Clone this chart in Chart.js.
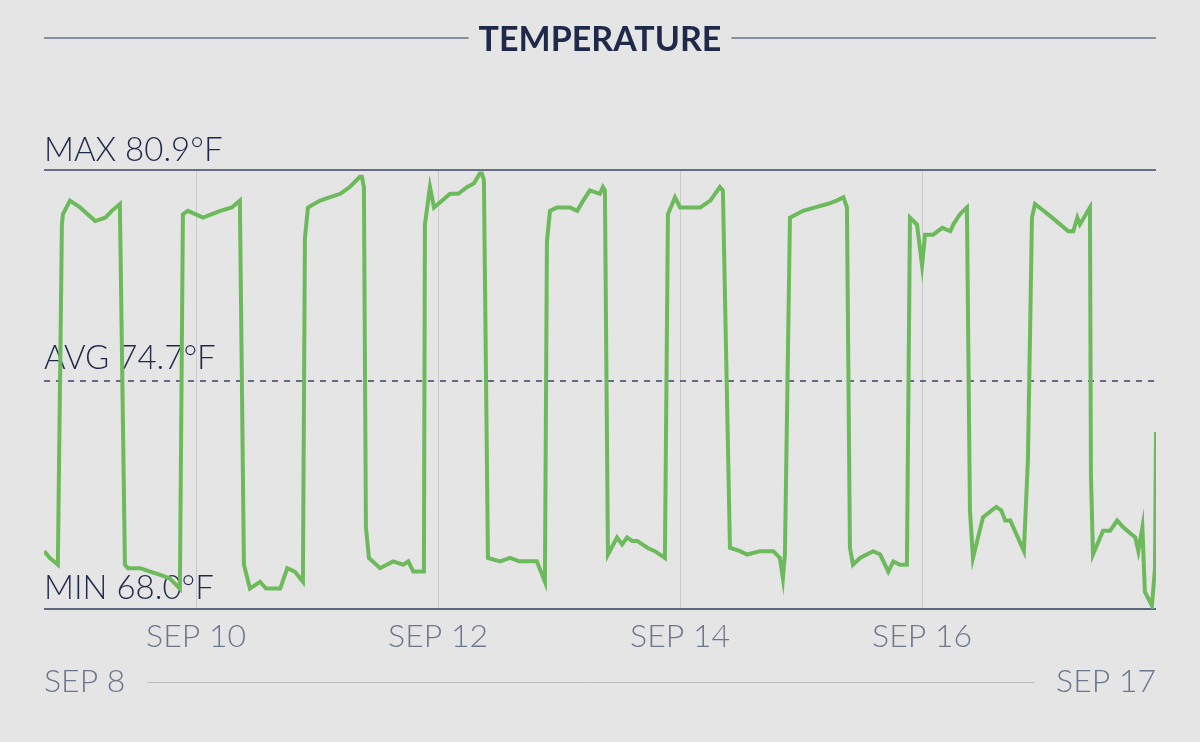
<!DOCTYPE html>
<html>
<head>
<meta charset="utf-8">
<script src="https://cdn.jsdelivr.net/npm/chart.js@4.4.0/dist/chart.umd.min.js"></script>
<style>
html, body { margin: 0; padding: 0; background: #e5e5e5; }
#wrap { width: 1200px; height: 742px; position: relative; }
</style>
</head>
<body>
<div id="wrap"><canvas id="myChart01"></canvas></div>
<script>
// horas desde SEP 8 00:00
var horas = [17.9, 19.0, 20.6, 21.4, 21.6, 23.0, 25.0, 28.0, 30.0, 31.3, 32.9,
  33.9, 34.5, 36.9, 38.9, 40.9, 42.8, 44.8,
  45.4, 46.4, 49.4, 52.8, 55.1, 56.7,
  57.5, 58.7, 60.7, 61.9, 63.3, 64.7, 66.1, 67.6, 69.2,
  69.6, 70.2, 72.6, 74.6, 76.6, 78.5, 80.5, 80.9, 81.3,
  81.7, 82.3, 84.5, 87.1, 89.1, 90.1, 91.1, 92.4, 93.2,
  93.4, 94.4, 95.2, 98.4, 100.0, 101.8, 103.1, 104.3, 104.7, 105.1,
  105.9, 108.3, 110.3, 112.1, 113.7, 115.6, 117.2,
  117.6, 118.2, 119.6, 122.2, 123.6, 124.8, 126.1, 128.1, 128.7, 129.1,
  129.7, 131.5, 132.5, 133.5, 134.5, 135.5, 137.5, 139.0, 141.0,
  141.6, 143.0, 144.0, 148.0, 150.0, 151.9, 152.5,
  153.9, 155.9, 157.3, 159.9, 162.5, 163.8, 164.4, 164.8,
  165.8, 168.4, 170.8, 173.2, 175.1, 176.4, 177.1,
  177.7, 178.3, 179.7, 182.3, 183.7, 185.3, 186.3, 187.6, 189.0,
  189.6, 191.0, 192.0, 192.6, 194.2, 196.0, 197.6, 198.2, 199.5, 200.9,
  201.5, 202.1, 204.1, 206.7, 207.7, 208.5, 209.5, 212.2,
  213.0, 213.8, 214.4, 217.8, 221.0, 222.0, 222.8, 223.3, 225.3,
  225.5, 225.9, 227.9, 229.3, 230.7, 231.9, 234.3, 234.9, 235.7, 236.2, 237.6, 238.2, 238.4];
var temps = [69.7, 69.5, 69.3, 79.3, 79.6, 80.0, 79.8, 79.4, 79.5, 79.7, 79.9,
  69.3, 69.2, 69.2, 69.1, 69.0, 68.9, 68.6,
  79.6, 79.7, 79.5, 79.7, 79.8, 80.0,
  69.3, 68.6, 68.8, 68.6, 68.6, 68.6, 69.2, 69.1, 68.8,
  78.9, 79.8, 80.0, 80.1, 80.2, 80.4, 80.7, 80.7, 80.4,
  70.4, 69.5, 69.2, 69.4, 69.3, 69.4, 69.1, 69.1, 69.1,
  79.3, 80.4, 79.8, 80.2, 80.2, 80.4, 80.5, 80.8, 80.8, 80.6,
  69.5, 69.4, 69.5, 69.4, 69.4, 69.4, 68.8,
  78.8, 79.7, 79.8, 79.8, 79.7, 80.0, 80.3, 80.2, 80.4, 80.3,
  69.6, 70.1, 69.9, 70.1, 70.0, 70.0, 69.8, 69.7, 69.5,
  79.6, 80.1, 79.8, 79.8, 80.0, 80.4, 80.3,
  69.8, 69.7, 69.6, 69.7, 69.7, 69.5, 68.9, 69.6,
  79.5, 79.7, 79.8, 79.9, 80.0, 80.1, 79.8,
  69.8, 69.3, 69.5, 69.7, 69.6, 69.1, 69.4, 69.3, 69.3,
  79.5, 79.3, 78.1, 79.0, 79.0, 79.2, 79.1, 79.3, 79.6, 79.8,
  70.9, 69.5, 70.7, 71.0, 70.9, 70.6, 70.6, 69.7,
  72.4, 79.5, 79.9, 79.5, 79.1, 79.1, 79.5, 79.3, 79.8,
  71.9, 69.6, 70.3, 70.3, 70.6, 70.4, 70.1, 69.7, 70.4, 68.5, 68.1, 69.2, 73.2];
var tickHoras = [48, 96, 144, 192];
var tickLabels = ['SEP 10', 'SEP 12', 'SEP 14', 'SEP 16'];
var rangoLabels = ['SEP 8', 'SEP 17'];
var maxT = 80.9, avgT = 74.7, minT = 68.0;

var navy = '#1f2a4b';
var gris = '#6b778c';

var decorado = {
  id: 'decorado',
  beforeDatasetsDraw: function (chart) {
    var ctx = chart.ctx, a = chart.chartArea, ys = chart.scales.y;
    ctx.save();

    // titulo
    ctx.font = 'bold 34px Lato';
    ctx.fillStyle = navy;
    ctx.textAlign = 'center';
    ctx.textBaseline = 'alphabetic';
    var cx = (a.left + a.right) / 2;
    ctx.fillText('TEMPERATURE', cx, 51);
    var w = ctx.measureText('TEMPERATURE').width;
    ctx.strokeStyle = '#878fa4';
    ctx.lineWidth = 2;
    ctx.beginPath();
    ctx.moveTo(a.left, 38); ctx.lineTo(cx - w / 2 - 10, 38);
    ctx.moveTo(cx + w / 2 + 10, 38); ctx.lineTo(a.right, 38);
    ctx.stroke();

    // max / min
    var yMax = ys.getPixelForValue(maxT);
    var yMin = ys.getPixelForValue(minT);
    var yAvg = ys.getPixelForValue(avgT);
    ctx.lineWidth = 1.5;
    ctx.strokeStyle = '#3b4563';
    ctx.beginPath(); ctx.moveTo(a.left, yMax); ctx.lineTo(a.right, yMax); ctx.stroke();
    ctx.lineWidth = 2;
    ctx.strokeStyle = '#5c667d';
    ctx.beginPath(); ctx.moveTo(a.left, yMin); ctx.lineTo(a.right, yMin); ctx.stroke();

    ctx.lineWidth = 1.5;
    ctx.strokeStyle = '#3b4563';
    ctx.setLineDash([6, 6]);
    ctx.beginPath(); ctx.moveTo(a.left, yAvg); ctx.lineTo(a.right, yAvg); ctx.stroke();
    ctx.setLineDash([]);

    ctx.font = '300 33px Lato';
    ctx.textAlign = 'left';
    ctx.fillStyle = navy;
    ctx.fillText('MAX ' + maxT.toFixed(1) + '°F', a.left, yMax - 9);
    ctx.fillText('AVG ' + avgT.toFixed(1) + '°F', a.left, yAvg - 12);
    ctx.fillText('MIN ' + minT.toFixed(1) + '°F', a.left, yMin - 10);

    // rango de fechas
    ctx.font = '300 32px Lato';
    ctx.fillStyle = gris;
    ctx.fillText(rangoLabels[0], a.left, 692);
    var w0 = ctx.measureText(rangoLabels[0]).width;
    ctx.textAlign = 'right';
    ctx.fillText(rangoLabels[1], a.right, 692);
    var w1 = ctx.measureText(rangoLabels[1]).width;
    ctx.strokeStyle = '#bdbdbd';
    ctx.lineWidth = 1;
    ctx.beginPath();
    ctx.moveTo(a.left + w0 + 22, 682.5);
    ctx.lineTo(a.right - w1 - 22, 682.5);
    ctx.stroke();
    ctx.restore();
  }
};

var puntos = horas.map(function (h, i) { return { x: h, y: temps[i] }; });

var ctx = document.getElementById('myChart01');
var myChart1 = new Chart(ctx, {
  type: 'line',
  data: {
    datasets: [{
      label: 'Temperature',
      data: puntos,
      borderColor: '#6cba5b',
      borderWidth: 4,
      pointRadius: 0,
      tension: 0,
      fill: false
    }]
  },
  options: {
    responsive: true,
    maintainAspectRatio: false,
    animation: false,
    layout: { padding: { top: 170, left: 44, right: 44, bottom: 93 } },
    plugins: {
      legend: { display: false },
      title: { display: false },
      tooltip: { enabled: false }
    },
    scales: {
      x: {
        type: 'linear',
        min: 17.85,
        max: 238.4,
        afterBuildTicks: function (s) {
          s.ticks = tickHoras.map(function (v) { return { value: v }; });
        },
        afterFit: function (s) { s.height = 40; },
        grid: { color: '#c9c9c9', lineWidth: 1, drawTicks: false },
        border: { display: false },
        ticks: {
          padding: 8,
          color: gris,
          font: { family: 'Lato', size: 32, weight: '300' },
          maxRotation: 0,
          callback: function (v) {
            var i = tickHoras.indexOf(v);
            return i >= 0 ? tickLabels[i] : '';
          }
        }
      },
      y: {
        display: false,
        min: minT,
        max: maxT
      }
    }
  },
  plugins: [decorado]
});
</script>
</body>
</html>
